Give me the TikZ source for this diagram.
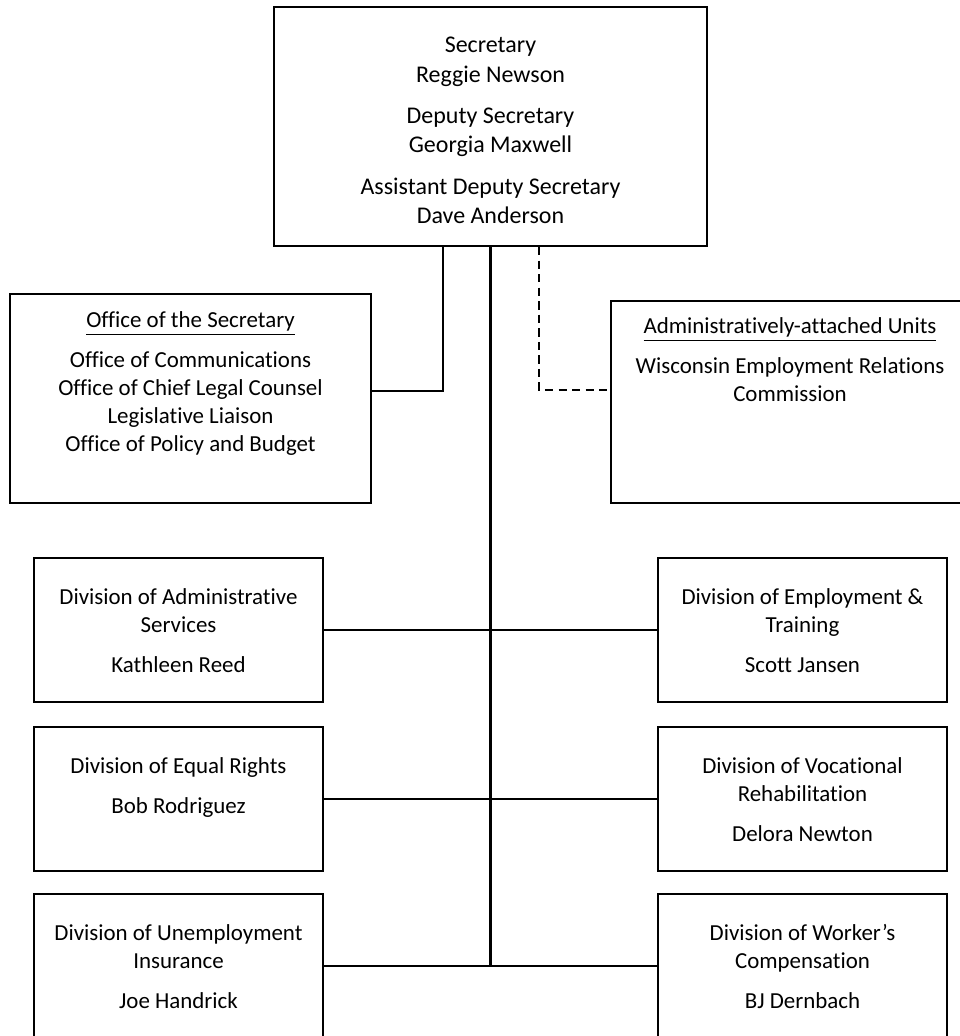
\documentclass[tikz,border=0pt]{standalone}
\usepackage{fontspec}
\setmainfont{Carlito}[Ligatures=NoCommon]
\usetikzlibrary{positioning}
\tikzstyle{box} = [rectangle, draw, line width=1pt, inner sep=0pt]
\tikzstyle{txt} = [align=center, anchor=north, inner sep=0pt, font=\fontsize{11}{13.4}\selectfont]
\tikzstyle{bigtxt} = [txt, font=\fontsize{11.5}{14}\selectfont]
\tikzstyle{line} = [draw, line width=1pt]
\tikzstyle{dashline} = [draw, line width=1pt, dash pattern=on 4pt off 2.5pt]

\begin{document}
\begin{tikzpicture}[x=0.48pt, y=-0.48pt]
	\useasboundingbox (0,0) rectangle (959,1036);
	% boxes
	\node [box, minimum width=207.8pt, minimum height=114.7pt] (sec) at (490.5,126.5) {};
	\node [box, minimum width=173.3pt, minimum height=100.3pt] (osec) at (190.5,398.5) {};
	\node [box, minimum width=171.8pt, minimum height=97pt] (adm) at (790,402) {};
	\node [box, minimum width=138.7pt, minimum height=69.1pt] (divAS) at (178.5,630) {};
	\node [box, minimum width=138.7pt, minimum height=69.1pt] (divET) at (802.5,630) {};
	\node [box, minimum width=138.7pt, minimum height=69.1pt] (divER) at (178.5,799) {};
	\node [box, minimum width=138.7pt, minimum height=69.1pt] (divVR) at (802.5,799) {};
	\node [box, minimum width=138.7pt, minimum height=69.1pt] (divUI) at (178.5,966) {};
	\node [box, minimum width=138.7pt, minimum height=69.1pt] (divWC) at (802.5,966) {};

	% texts
	\node [bigtxt] (sec-text) at (490.5,37) {Secretary\\Reggie Newson\\[6pt]Deputy Secretary\\Georgia Maxwell\\[6pt]Assistant Deputy Secretary\\Dave Anderson};
	\node [txt] (osec-text) at (190.5,311) {\underline{Office of the Secretary}\\[6pt]Office of Communications\\Office of Chief Legal Counsel\\Legislative Liaison\\Office of Policy and Budget};
	\node [txt] (adm-text) at (790,317) {\underline{Administratively-attached Units}\\[6pt]Wisconsin Employment Relations\\Commission};
	\node [txt] (divAS-text) at (178.5,588) {Division of Administrative\\Services\\[6pt]Kathleen Reed};
	\node [txt] (divET-text) at (802.5,588) {Division of Employment \&\\Training\\[6pt]Scott Jansen};
	\node [txt] (divER-text) at (178.5,757) {Division of Equal Rights\\[6pt]Bob Rodriguez};
	\node [txt] (divVR-text) at (802.5,757) {Division of Vocational\\Rehabilitation\\[6pt]Delora Newton};
	\node [txt] (divUI-text) at (178.5,924) {Division of Unemployment\\Insurance\\[6pt]Joe Handrick};
	\node [txt] (divWC-text) at (802.5,924) {Division of Worker’s\\Compensation\\[6pt]BJ Dernbach};

	% connectors
	\coordinate (osec-link) at (443,391);
	\coordinate (adm-link) at (539,390);
	\path[line] (sec.south -| osec-link) |- (osec.east |- osec-link);
	\path[dashline] (sec.south -| adm-link) |- (adm.west |- adm-link);
	\path[line] (sec.south) -- (sec.south |- divUI.east);
	\path[line] (divAS.east) -- (divET.west);
	\path[line] (divER.east) -- (divVR.west);
	\path[line] (divUI.east) -- (divWC.west);
\end{tikzpicture}
\end{document}
